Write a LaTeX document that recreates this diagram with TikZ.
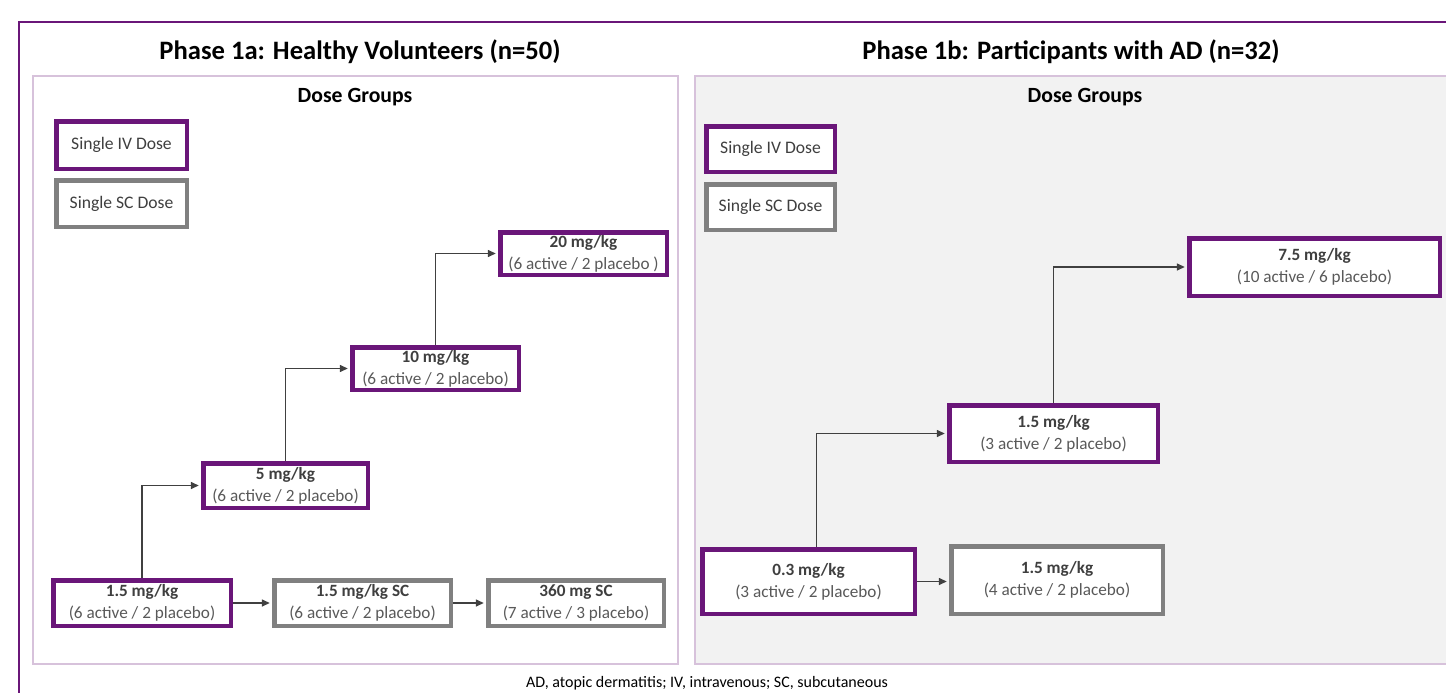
\documentclass[tikz,border=0pt]{standalone}
\usepackage{fontspec}
\setmainfont{Carlito}
\usetikzlibrary{arrows.meta}
\definecolor{ivpurple}{HTML}{6A1679}
\definecolor{scgray}{HTML}{808080}
\definecolor{panelline}{HTML}{D7C2DB}
\definecolor{panelfill}{HTML}{F2F2F2}
\definecolor{txtdark}{HTML}{3F3F3F}
\definecolor{txtgray}{HTML}{595959}
\definecolor{arrowgray}{HTML}{404040}
\newcommand\dosetxt[2]{\textbf{#1}\\{\color{txtgray}#2}}
\tikzset{
  dosebox/.style={rectangle, fill=white, line width=4.5pt, inner sep=0pt, align=center,
    text=txtdark, font=\fontsize{17.2}{22}\selectfont},
  ivbox/.style={dosebox, draw=ivpurple},
  scbox/.style={dosebox, draw=scgray},
  legtxt/.style={font=\fontsize{17.6}{20}\selectfont},
  arr/.style={draw=arrowgray, line width=1.4pt, -{Triangle[length=8pt,width=7pt]}, shorten >=2.2pt},
  panel/.style={draw=panelline, line width=1.5pt},
  ptitle/.style={font=\fontsize{26.6}{30}\selectfont\bfseries, text=black},
  gtitle/.style={font=\fontsize{21.7}{25}\selectfont\bfseries, text=black}
}
\begin{document}
\begin{tikzpicture}[x=1pt,y=-1pt]
\useasboundingbox (0,0) rectangle (1446,693);
% outer frame
\draw[ivpurple, line width=1.5pt] (19,760) -- (19,22) -- (1500,22);
% panels
\draw[panel, fill=white] (33,76) rectangle (678,664);
\fill[panelfill] (695,76) rectangle (1500,664);
\draw[panel] (1500,664) -- (695,664) -- (695,76) -- (1500,76);
% titles
\node[ptitle] (t1) at (360,52) {Phase 1a: Healthy Volunteers (n=50)};
\node[ptitle] (t2) at (1071,52) {Phase 1b: Participants with AD (n=32)};
\node[gtitle] (g1) at (355,97) {Dose Groups};
\node[gtitle] (g2) at (1085,97) {Dose Groups};
% legends
\node[ivbox, legtxt, minimum width=130.5pt, minimum height=47.5pt] (livl) at (121.5,145) {Single IV Dose};
\node[scbox, legtxt, minimum width=130.5pt, minimum height=46.5pt] (lscl) at (121.5,203.5) {Single SC Dose};
\node[ivbox, legtxt, minimum width=128.5pt, minimum height=45.5pt] (rivl) at (770.5,149) {Single IV Dose};
\node[scbox, legtxt, minimum width=128.5pt, minimum height=45.5pt] (rscl) at (770.5,207) {Single SC Dose};
% left dose boxes
\node[ivbox, minimum width=166.5pt, minimum height=42.5pt] (l20) at (583.5,253.5) {\dosetxt{20 mg/kg}{(6 active / 2 placebo )}};
\node[ivbox, minimum width=166.5pt, minimum height=42.5pt] (l10) at (435.5,368.5) {\dosetxt{10 mg/kg}{(6 active / 2 placebo)}};
\node[ivbox, minimum width=164.5pt, minimum height=44.5pt] (l5) at (285.5,485.5) {\dosetxt{5 mg/kg}{(6 active / 2 placebo)}};
\node[ivbox, minimum width=177.5pt, minimum height=45.5pt] (l15) at (142,603) {\dosetxt{1.5 mg/kg}{(6 active / 2 placebo)}};
\node[scbox, minimum width=176.5pt, minimum height=45.5pt] (lsc15) at (362.5,603) {\dosetxt{1.5 mg/kg SC}{(6 active / 2 placebo)}};
\node[scbox, minimum width=175.5pt, minimum height=45.5pt] (l360) at (576,603) {\dosetxt{360 mg SC}{(7 active / 3 placebo)}};
% right dose boxes
\node[ivbox, minimum width=250.5pt, minimum height=57.5pt] (r75) at (1314.5,267) {\dosetxt{7.5 mg/kg}{(10 active / 6 placebo)}};
\node[ivbox, minimum width=208.5pt, minimum height=56.5pt] (r15) at (1053.5,433.5) {\dosetxt{1.5 mg/kg}{(3 active / 2 placebo)}};
\node[ivbox, minimum width=212.5pt, minimum height=64.5pt] (r03) at (808.5,581.5) {\dosetxt{0.3 mg/kg}{(3 active / 2 placebo)}};
\node[scbox, minimum width=211.5pt, minimum height=67.5pt] (rsc) at (1057,580) {\dosetxt{1.5 mg/kg}{(4 active / 2 placebo)}};
% arrows left
\draw[arr] (l15.north) |- (l5.west);
\draw[arr] (l5.north) |- (l10.west);
\draw[arr] (l10.north) |- (l20.west);
\draw[arr] (l15.east) -- (lsc15.west);
\draw[arr] (lsc15.east) -- (l360.west);
% arrows right
\draw[arr] ([xshift=8pt]r03.north) |- (r15.west);
\draw[arr] (r15.north) |- (r75.west);
\draw[arr] (r03.east) -- (r03.east -| rsc.west);
% footnote
\node[font=\fontsize{16}{18}\selectfont, text=black] (fn) at (707,683) {AD, atopic dermatitis; IV, intravenous; SC, subcutaneous};
\end{tikzpicture}
\end{document}
